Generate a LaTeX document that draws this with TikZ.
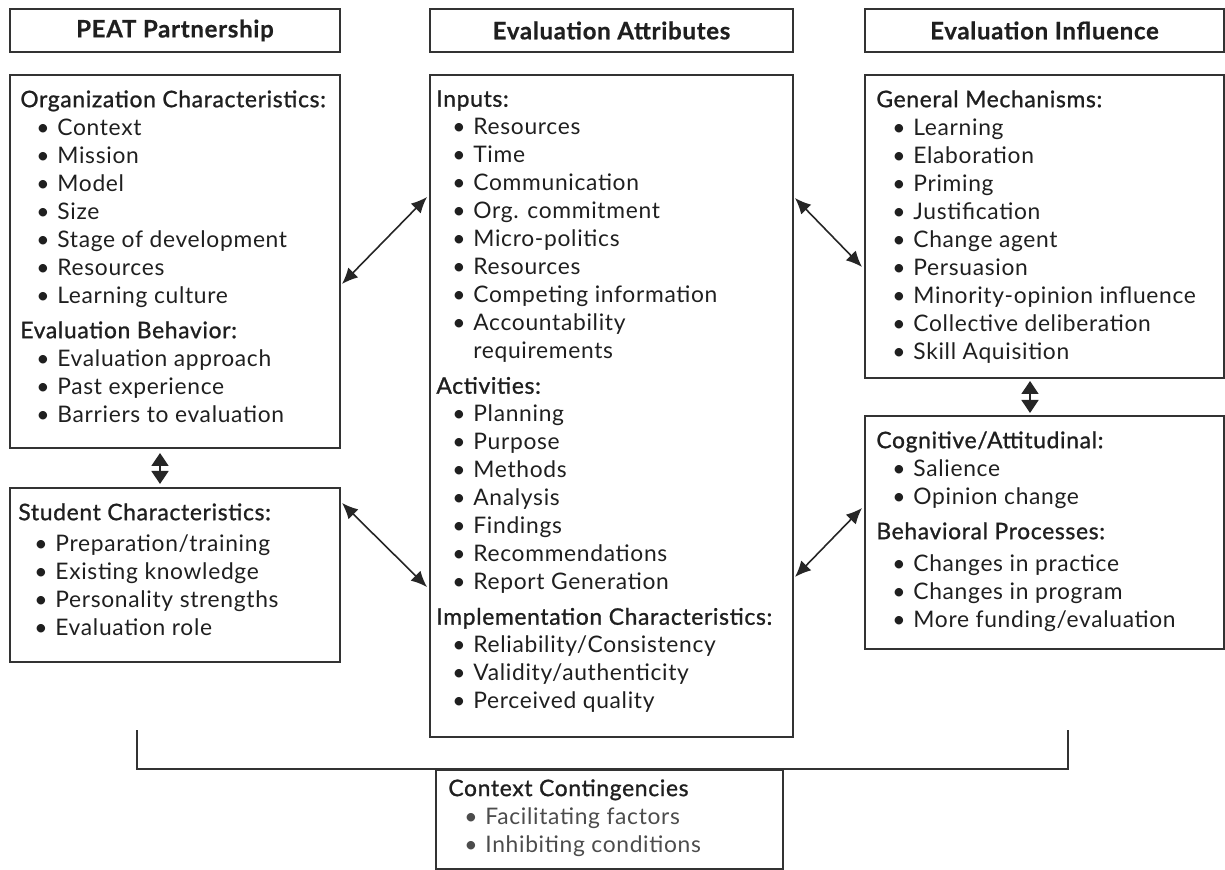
\documentclass[tikz,border=0pt]{standalone}
\usepackage{fontspec}
\setmainfont{Lato}[LetterSpace=3]
\newfontfamily\medfont{Lato}[LetterSpace=3, FakeBold=1.1]
\newfontfamily\hdfont{Lato}[LetterSpace=3, BoldFeatures={FakeBold=0.6}]
\usetikzlibrary{arrows.meta}

% one bulleted entry of a list
\newcommand{\itm}[1]{\hspace*{8pt}\makebox[10.5pt][l]{\textbullet}#1}
\newcommand{\subhd}[1]{{\medfont #1}}

\begin{document}
\begin{tikzpicture}[x=0.5pt,y=-0.5pt]
        \useasboundingbox (0,0) rectangle (1225,870);
        \tikzstyle{every node}=[inner sep=0pt, text=black!88]
        \tikzstyle{box}=[draw=black!80, line width=1pt, anchor=north west]
        \tikzstyle{hdr}=[box, minimum height=21.5pt, font=\fontsize{12}{14}\selectfont\hdfont\bfseries]
        \tikzstyle{list}=[anchor=north west, align=left, font=\fontsize{11.4}{14}\selectfont]
        \tikzstyle{dbl}=[{Latex[length=8pt,width=7pt]}-{Latex[length=8pt,width=7pt]}, line width=0.8pt, draw=black!85]
        \tikzstyle{vdbl}=[{Triangle[length=6.5pt,width=8.5pt]}-{Triangle[length=6.5pt,width=8.5pt]}, line width=0.8pt, draw=black!85]

        % column headers
        \node[hdr, minimum width=165pt]   (hdrpeat) at (9,8)   {PEAT Partnership};
        \node[hdr, minimum width=181.5pt] (hdrattr) at (429,8) {Evaluation Attributes};
        \node[hdr, minimum width=179.5pt] (hdrinfl) at (864,8) {Evaluation Influence};

        % boxes
        \node[box, minimum width=165pt,   minimum height=186.5pt] (org)     at (9,74)    {};
        \node[box, minimum width=165pt,   minimum height=87pt]    (student) at (9,487)   {};
        \node[box, minimum width=181.5pt, minimum height=331pt]   (attr)    at (429,74)  {};
        \node[box, minimum width=179.5pt, minimum height=151.5pt] (mech)    at (864,74)  {};
        \node[box, minimum width=179.5pt, minimum height=116.5pt] (cogn)    at (864,415) {};
        \node[box, minimum width=173.5pt, minimum height=49.5pt]  (ctx)     at (435,769) {};

        % box contents
        \node[list] (orgtxt) at ([shift={(11,16)}]org.north west) {%
            \subhd{Organization Characteristics:}\\
            \itm{Context}\\
            \itm{Mission}\\
            \itm{Model}\\
            \itm{Size}\\
            \itm{Stage of development}\\
            \itm{Resources}\\
            \itm{Learning culture}\\[3.5pt]
            \subhd{Evaluation Behavior:}\\
            \itm{Evaluation approach}\\
            \itm{Past experience}\\
            \itm{Barriers to evaluation}};
        \node[list] (studenttxt) at ([shift={(9,16)}]student.north west) {%
            \subhd{Student Characteristics:}\\[1.5pt]
            \itm{Preparation/training}\\
            \itm{Existing knowledge}\\
            \itm{Personality strengths}\\
            \itm{Evaluation role}};
        \node[list] (attrtxt) at ([shift={(7,16)}]attr.north west) {%
            \subhd{Inputs:}\\
            \itm{Resources}\\
            \itm{Time}\\
            \itm{Communication}\\
            \itm{Org. commitment}\\
            \itm{Micro-politics}\\
            \itm{Resources}\\
            \itm{Competing information}\\
            \itm{Accountability}\\
            \hspace*{18.5pt}requirements\\[3.5pt]
            \subhd{Activities:}\\
            \itm{Planning}\\
            \itm{Purpose}\\
            \itm{Methods}\\
            \itm{Analysis}\\
            \itm{Findings}\\
            \itm{Recommendations}\\
            \itm{Report Generation}\\[3.5pt]
            \subhd{Implementation Characteristics:}\\
            \itm{Reliability/Consistency}\\
            \itm{Validity/authenticity}\\
            \itm{Perceived quality}};
        \node[list] (mechtxt) at ([shift={(12,16)}]mech.north west) {%
            \subhd{General Mechanisms:}\\
            \itm{Learning}\\
            \itm{Elaboration}\\
            \itm{Priming}\\
            \itm{Justification}\\
            \itm{Change agent}\\
            \itm{Persuasion}\\
            \itm{Minority-opinion influence}\\
            \itm{Collective deliberation}\\
            \itm{Skill Aquisition}};
        \node[list] (cogntxt) at ([shift={(12,16)}]cogn.north west) {%
            \subhd{Cognitive/Attitudinal:}\\
            \itm{Salience}\\
            \itm{Opinion change}\\[3.5pt]
            \subhd{Behavioral Processes:}\\[2pt]
            \itm{Changes in practice}\\
            \itm{Changes in program}\\
            \itm{More funding/evaluation}};
        \node[list] (ctxtxt) at ([shift={(13,10)}]ctx.north west) {%
            \subhd{Context Contingencies}\\
            {\color{black!70}\itm{Facilitating factors}}\\
            {\color{black!70}\itm{Inhibiting conditions}}};

        % links between boxes
        \draw[dbl] ([shift={(1,210)}]org.north east) -- ([shift={(-2,123)}]attr.north west);
        \draw[dbl] ([shift={(1,16)}]student.north east) -- ([shift={(-2,513)}]attr.north west);
        \draw[dbl] ([shift={(1,124)}]attr.north east) -- ([shift={(-2,193)}]mech.north west);
        \draw[dbl] ([shift={(1,503)}]attr.north east) -- ([shift={(-2,93)}]cogn.north west);
        \draw[vdbl] ([shift={(151,4)}]org.south west) -- ([shift={(151,-3)}]student.north west);
        \draw[vdbl] ([shift={(166,2)}]mech.south west) -- ([shift={(166,-2)}]cogn.north west);

        % bracket over the context box
        \coordinate (brl) at (137,730);
        \coordinate (brr) at (1068,730);
        \draw[line width=1pt, black!80] (brl) |- (ctx.north) -| (brr);
\end{tikzpicture}
\end{document}
